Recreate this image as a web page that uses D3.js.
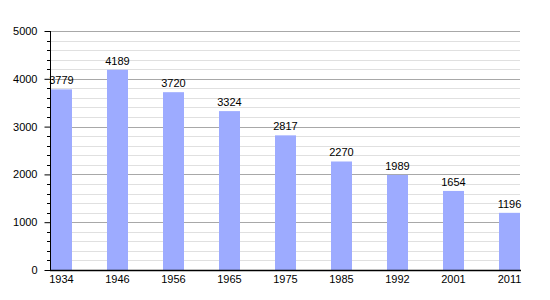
<!DOCTYPE html>
<html>
<head>
<meta charset="utf-8">
<script src="https://cdn.jsdelivr.net/npm/d3@7"></script>
<style>
  body { margin: 0; background: #fff; }
  text { font-family: "Liberation Sans", Arial, sans-serif; font-size: 11px; fill: #000; }
</style>
</head>
<body>
<div id="chart"></div>
<script>
// population by census year
var years = ["1934", "1946", "1956", "1965", "1975", "1985", "1992", "2001", "2011"];
var population = [3779, 4189, 3720, 3324, 2817, 2270, 1989, 1654, 1196];
var yTicks = [0, 1000, 2000, 3000, 4000, 5000];

var svgWidth = 550;
var svgHeight = 300;

var plotLeft = 50, plotRight = 520, plotTop = 31, plotBottom = 270;

var svg = d3.select("#chart")
  .append("svg")
  .attr("width", svgWidth)
  .attr("height", svgHeight);

var x = d3.scaleBand()
  .domain(years)
  .range([plotLeft, plotLeft + years.length * 56]);

var barWidth = 21;

var y = d3.scaleLinear()
  .domain([0, 5000])
  .range([plotBottom, plotTop]);

// minor gridlines every 200
var minor = d3.range(200, 5001, 200).filter(d => d % 1000 != 0);
svg.append("g").selectAll("line")
  .data(minor)
  .enter()
  .append("line")
  .attr("x1", plotLeft)
  .attr("x2", plotRight)
  .attr("y1", d => Math.round(y(d)) + 0.5)
  .attr("y2", d => Math.round(y(d)) + 0.5)
  .attr("stroke", "#e0e0e0");

// major gridlines
svg.append("g").selectAll("line")
  .data(yTicks.slice(1))
  .enter()
  .append("line")
  .attr("x1", plotLeft)
  .attr("x2", plotRight)
  .attr("y1", d => Math.round(y(d)) + 0.5)
  .attr("y2", d => Math.round(y(d)) + 0.5)
  .attr("stroke", "#a8a8a8");

// bars
svg.selectAll("rect")
  .data(population)
  .enter()
  .append("rect")
  .attr("x", (d, i) => x(years[i]) + 1)
  .attr("y", d => y(d))
  .attr("width", barWidth)
  .attr("height", d => plotBottom - y(d))
  .attr("fill", "#9dabff");

// value labels
svg.append("g").selectAll("text")
  .data(population)
  .enter()
  .append("text")
  .attr("x", (d, i) => x(years[i]) + 1 + barWidth / 2)
  .attr("y", d => y(d) - 5)
  .attr("text-anchor", "middle")
  .text(d => d);

// y axis
var leftAxis = d3.axisLeft(y).tickValues(yTicks).tickSize(6).tickPadding(7).tickFormat(d3.format("d"));
var yAxis = svg.append("g")
  .attr("transform", `translate(${plotLeft + 0.5}, 0)`)
  .call(leftAxis);
yAxis.select(".domain").remove();
yAxis.selectAll("text").attr("font-size", null).attr("font-family", null);
yAxis.selectAll("line").attr("stroke", "#000");

// minor ticks
svg.append("g").selectAll("line")
  .data(minor)
  .enter()
  .append("line")
  .attr("x1", plotLeft - 3)
  .attr("x2", plotLeft)
  .attr("y1", d => Math.round(y(d)) + 0.5)
  .attr("y2", d => Math.round(y(d)) + 0.5)
  .attr("stroke", "#000");

svg.append("line")
  .attr("x1", plotLeft + 0.5).attr("x2", plotLeft + 0.5)
  .attr("y1", plotTop).attr("y2", plotBottom)
  .attr("stroke", "#000");

// x axis
svg.append("line")
  .attr("x1", plotLeft).attr("x2", plotRight + 1)
  .attr("y1", plotBottom + 0.5).attr("y2", plotBottom + 0.5)
  .attr("stroke", "#000")
  .attr("stroke-width", 1.5);

svg.append("g").selectAll("text")
  .data(years)
  .enter()
  .append("text")
  .attr("x", d => x(d) + 1 + barWidth / 2)
  .attr("y", plotBottom + 13)
  .attr("text-anchor", "middle")
  .text(d => d);
</script>
</body>
</html>
